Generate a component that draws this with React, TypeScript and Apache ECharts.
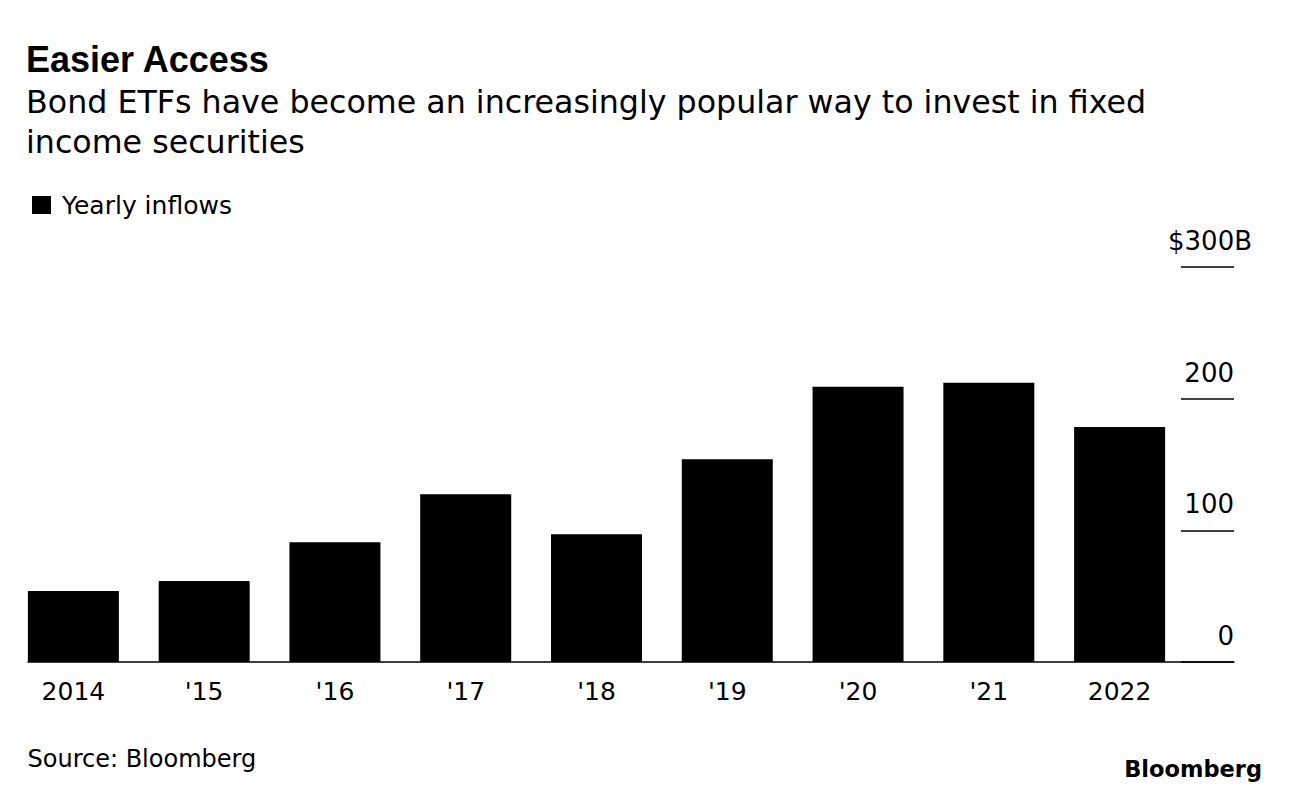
import React, { useEffect, useRef } from "react";
import * as echarts from "echarts";

const categories = ["2014", "'15", "'16", "'17", "'18", "'19", "'20", "'21", "2022"];
const inflows = [54, 61.5, 91, 127.5, 97, 154, 209, 212, 178.5];
const yMin = 0;
const yMax = 300;
const yInterval = 100;
const yPrefix = "$";
const yUnit = "B";

const titleText = "Easier Access";
const subtitleText = "Bond ETFs have become an increasingly popular way to invest in fixed\nincome securities";
const legendName = "Yearly inflows";
const sourceText = "Source: Bloomberg";
const logoText = "Bloomberg";

const BODY = "DejaVu Sans";
const HEAD = "Liberation Sans";

export default function App() {
  const ref = useRef<HTMLDivElement>(null);
  useEffect(() => {
    if (!ref.current) return;
    const chart = echarts.init(ref.current, undefined, { renderer: "svg" });
    const option: any = {
      animation: false,
      backgroundColor: "#fff",
      textStyle: { fontFamily: BODY, color: "#000" },
      legend: {
        data: [legendName],
        left: 32,
        top: 192,
        padding: 0,
        icon: "rect",
        itemWidth: 19,
        itemHeight: 18,
        selectedMode: false,
        textStyle: { fontFamily: BODY, fontSize: 25, color: "#000", lineHeight: 26, padding: [0, 0, 0, 6] },
      },
      grid: [
        { left: 8, right: 104, top: 267, bottom: 136 },
        { left: 28, right: 55, top: 267, bottom: 136 },
        { left: 1181, right: 55, top: 267, bottom: 136 },
      ],
      xAxis: [
        {
          gridIndex: 0,
          type: "category",
          data: categories,
          axisLine: { show: false },
          axisTick: { show: false },
          axisLabel: { fontFamily: BODY, fontSize: 25, lineHeight: 25, color: "#000", margin: 17 },
        },
        {
          gridIndex: 1,
          type: "value",
          min: 0,
          max: 1,
          axisLine: { show: true, onZero: false, lineStyle: { color: "#000", width: 1.5 } },
          axisTick: { show: false },
          axisLabel: { show: false },
          splitLine: { show: false },
        },
        { gridIndex: 2, type: "value", min: 0, max: 1, show: false },
      ],
      yAxis: [
        { gridIndex: 0, type: "value", min: yMin, max: yMax, show: false },
        { gridIndex: 1, type: "value", min: yMin, max: yMax, show: false },
        {
          gridIndex: 2,
          type: "value",
          position: "right",
          min: yMin,
          max: yMax,
          interval: yInterval,
          axisLine: { show: false },
          axisTick: { show: false },
          splitLine: { show: true, lineStyle: { color: "#000", width: 1.5 } },
          axisLabel: {
            inside: true,
            margin: 0,
            align: "right",
            verticalAlign: "bottom",
            padding: [0, 0, 13, 0],
            formatter: (v: number) =>
              v === yMax ? `{n|${yPrefix}${v}}{u|${yUnit}}` : `{n|${v}}`,
            rich: {
              n: { fontFamily: BODY, fontSize: 26, lineHeight: 26, color: "#000" },
              u: { fontFamily: BODY, fontSize: 26, lineHeight: 26, color: "#000", padding: [0, -18, 0, 0] },
            },
          },
        },
      ],
      series: [
        {
          name: legendName,
          type: "bar",
          xAxisIndex: 0,
          yAxisIndex: 0,
          data: inflows,
          barWidth: 91,
          itemStyle: { color: "#000" },
        },
      ],
      graphic: [
        {
          type: "text",
          x: 26,
          y: 59.5,
          style: { text: titleText, fontFamily: HEAD, fontWeight: "bold", fontSize: 36, fill: "#000", verticalAlign: "middle" },
        },
        {
          type: "text",
          x: 26,
          y: 82,
          style: { text: subtitleText, fontFamily: BODY, fontSize: 31.7, lineHeight: 40, fill: "#000", verticalAlign: "top" },
        },
        {
          type: "text",
          x: 27.5,
          y: 758.7,
          style: { text: sourceText, fontFamily: BODY, fontSize: 24, fill: "#000", verticalAlign: "middle" },
        },
        {
          type: "text",
          x: 1262,
          y: 769,
          style: { text: logoText, fontFamily: BODY, fontWeight: "bold", fontSize: 22.5, fill: "#000", align: "right", verticalAlign: "middle" },
        },
      ],
    };
    chart.setOption(option);
    return () => chart.dispose();
  }, []);
  return (
    <div
      ref={ref}
      style={{ position: "fixed", left: 0, top: 0, width: 1289, height: 798, background: "#fff" }}
    />
  );
}
